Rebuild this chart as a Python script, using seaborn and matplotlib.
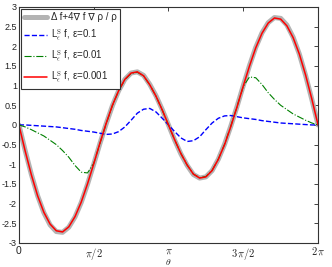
import numpy as np
import pandas as pd
import seaborn as sns
import matplotlib.pyplot as plt

# sample angles, every 7.5 degrees from 0 to 2*pi
theta_deg = np.arange(0, 361, 7.5)
theta = np.deg2rad(theta_deg)

# exact operator (grey)
exact = [0, -0.65, -1.26, -1.80, -2.23, -2.54, -2.71, -2.73, -2.60, -2.34, -1.97, -1.51,
         -1.00, -0.47, 0.03, 0.49, 0.87, 1.16, 1.32, 1.35, 1.26, 1.03, 0.74, 0.39,
         0, -0.39, -0.74, -1.03, -1.26, -1.35, -1.32, -1.16, -0.87, -0.49, -0.03, 0.47,
         1.00, 1.51, 1.97, 2.34, 2.60, 2.73, 2.71, 2.54, 2.23, 1.80, 1.26, 0.65, 0]

# eps = 0.001 (red)
eps_001 = [0, -0.66, -1.27, -1.80, -2.22, -2.52, -2.69, -2.72, -2.59, -2.33, -1.96, -1.50,
           -0.99, -0.46, 0.04, 0.50, 0.87, 1.16, 1.32, 1.35, 1.25, 1.02, 0.73, 0.38,
           0, -0.38, -0.73, -1.02, -1.25, -1.35, -1.32, -1.16, -0.87, -0.50, -0.04, 0.46,
           0.99, 1.50, 1.96, 2.33, 2.59, 2.72, 2.69, 2.52, 2.22, 1.80, 1.27, 0.66, 0]

# eps = 0.01 (green)
eps_01 = [0, -0.05, -0.12, -0.20, -0.28, -0.39, -0.50, -0.65, -0.82, -1.03, -1.20, -1.22,
          -0.98, -0.47, 0.03, 0.49, 0.87, 1.15, 1.31, 1.34, 1.25, 1.02, 0.73, 0.38,
          0, -0.38, -0.73, -1.02, -1.25, -1.34, -1.31, -1.15, -0.87, -0.49, -0.03, 0.47,
          0.98, 1.22, 1.20, 1.03, 0.82, 0.65, 0.50, 0.39, 0.28, 0.20, 0.12, 0.05, 0]

# eps = 0.1 (blue)
eps_1 = [0, 0, -0.01, -0.02, -0.03, -0.04, -0.05, -0.07, -0.09, -0.11, -0.14, -0.16,
         -0.18, -0.21, -0.24, -0.23, -0.17, -0.05, 0.12, 0.30, 0.40, 0.42, 0.33, 0.17,
         0, -0.17, -0.33, -0.42, -0.40, -0.30, -0.12, 0.05, 0.17, 0.23, 0.24, 0.21,
         0.18, 0.16, 0.14, 0.11, 0.09, 0.07, 0.05, 0.04, 0.03, 0.02, 0.01, 0, 0]

xtick_labels = ['0', r'$\pi/2$', r'$\pi$', r'$3\,\pi/2$', r'$2\,\pi$']
ytick_labels = ['-3', '-2.5', '-2', '-1.5', '-1', '-0.5', '0', '0.5', '1', '1.5', '2', '2.5', '3']

sns.set_style('white')
plt.rcParams['mathtext.fontset'] = 'cm'
plt.rcParams['font.family'] = ['Liberation Sans', 'DejaVu Sans']
plt.rcParams['lines.solid_joinstyle'] = 'round'

fig = plt.figure(figsize=(3.32, 2.67), dpi=100)
ax = fig.add_axes([0.057, 0.09, 0.901, 0.884])

sns.lineplot(x=theta, y=exact, ax=ax, color='#b3b3b3', linewidth=3.6,
             label='Δ f+4∇ f ∇ ρ / ρ')
sns.lineplot(x=theta, y=eps_1, ax=ax, color='#0000ff', linewidth=1.0, linestyle='--',
             label=r'L$^{\mathrm{S}}_{\epsilon}$ f, ε=0.1')
sns.lineplot(x=theta, y=eps_01, ax=ax, color='#008000', linewidth=0.8, linestyle='-.',
             label=r'L$^{\mathrm{S}}_{\epsilon}$ f, ε=0.01')
sns.lineplot(x=theta, y=eps_001, ax=ax, color='#ff0000', linewidth=1.1,
             label=r'L$^{\mathrm{S}}_{\epsilon}$ f, ε=0.001')

ax.set_xlim(0, 2 * np.pi)
ax.set_ylim(-3, 3)
ax.set_yticks(np.arange(-3, 3.01, 0.5))
ax.set_yticklabels(ytick_labels)
ax.set_xticks([0, np.pi / 2, np.pi, 3 * np.pi / 2, 2 * np.pi])
ax.set_xticklabels(xtick_labels)
ax.set_xlabel(r'$\theta$', fontsize=7, labelpad=-3.5)
ax.tick_params(direction='in', length=3, width=0.6, labelsize=6.5, pad=1.5,
               top=True, right=True, colors='#222222')
ax.tick_params(axis='x', labelsize=7.5, pad=2)
for s in ax.spines.values():
    s.set_color('#333333')
    s.set_linewidth(0.8)

leg = ax.legend(loc='upper left', fontsize=7, handlelength=2.3, handletextpad=0.4,
                labelspacing=0.6, borderpad=0.35, fancybox=False, framealpha=1,
                borderaxespad=0.2)
leg.get_frame().set_edgecolor('#333333')
leg.get_frame().set_linewidth(0.8)

fig.savefig('out.png', dpi=100)
